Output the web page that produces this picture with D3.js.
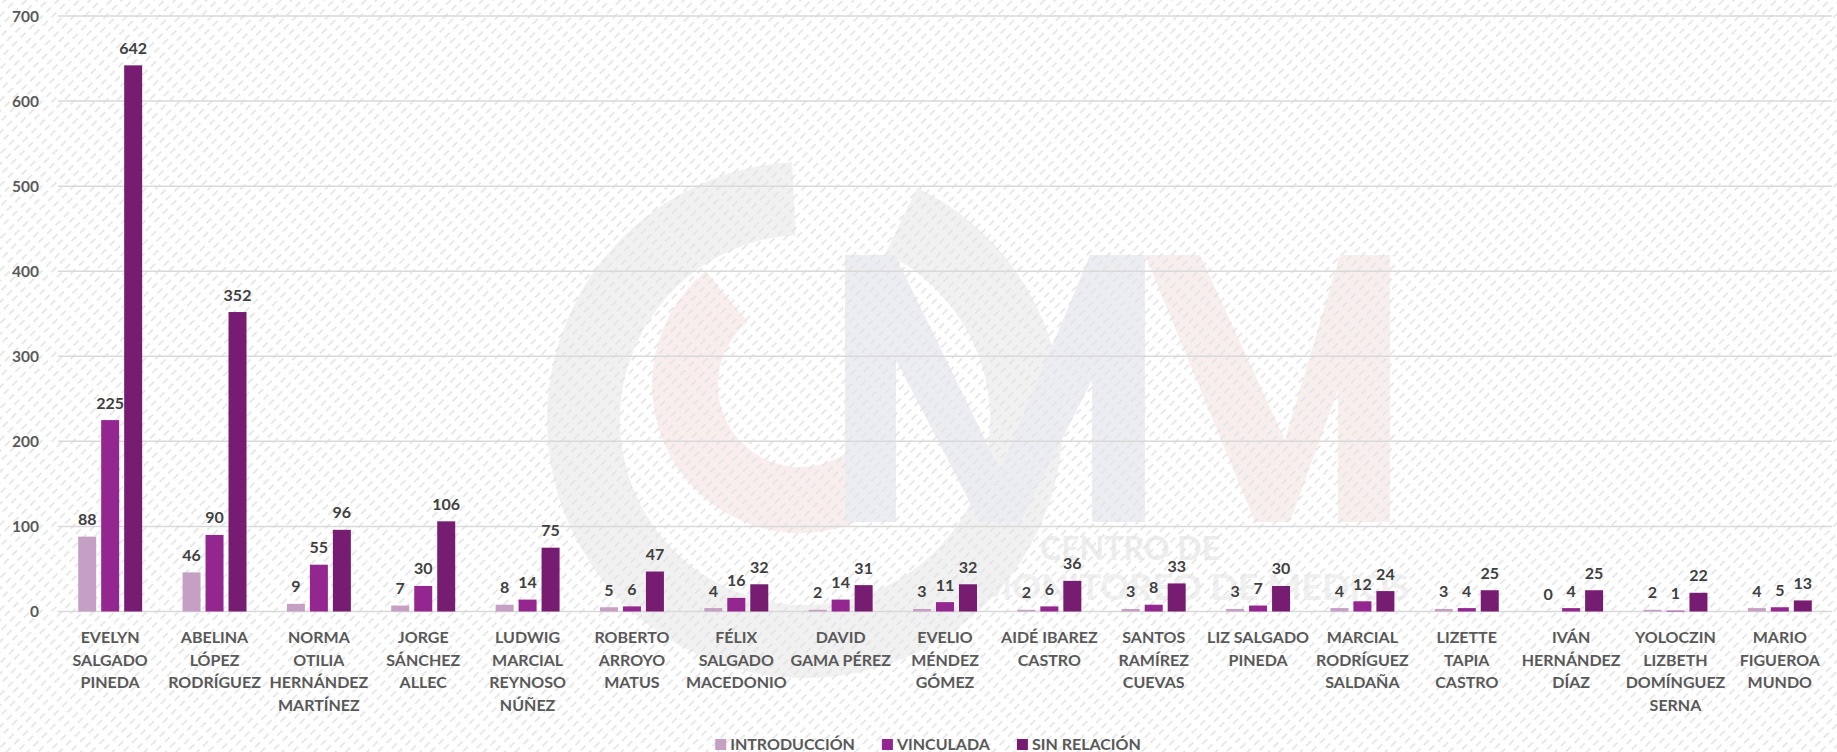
<!DOCTYPE html>
<html>
<head>
  <meta charset="utf-8" />
  <script src="https://d3js.org/d3.v7.min.js"></script>
  <style>
    body {
      margin: 0;
      background: #fff;
    }
    svg text {
      font-family: Lato, "Open Sans", sans-serif;
      font-weight: 700;
    }
  </style>
</head>
<body>
<div id="chart"></div>
<script>

// categories (one label line per entry)
var categories = [
  ["EVELYN", "SALGADO", "PINEDA"],
  ["ABELINA", "LÓPEZ", "RODRÍGUEZ"],
  ["NORMA", "OTILIA", "HERNÁNDEZ", "MARTÍNEZ"],
  ["JORGE", "SÁNCHEZ", "ALLEC"],
  ["LUDWIG", "MARCIAL", "REYNOSO", "NÚÑEZ"],
  ["ROBERTO", "ARROYO", "MATUS"],
  ["FÉLIX", "SALGADO", "MACEDONIO"],
  ["DAVID", "GAMA PÉREZ"],
  ["EVELIO", "MÉNDEZ", "GÓMEZ"],
  ["AIDÉ IBAREZ", "CASTRO"],
  ["SANTOS", "RAMÍREZ", "CUEVAS"],
  ["LIZ SALGADO", "PINEDA"],
  ["MARCIAL", "RODRÍGUEZ", "SALDAÑA"],
  ["LIZETTE", "TAPIA", "CASTRO"],
  ["IVÁN", "HERNÁNDEZ", "DÍAZ"],
  ["YOLOCZIN", "LIZBETH", "DOMÍNGUEZ", "SERNA"],
  ["MARIO", "FIGUEROA", "MUNDO"]
];

var seriesNames = ["INTRODUCCIÓN", "VINCULADA", "SIN RELACIÓN"];
var introduccion = [88, 46, 9, 7, 8, 5, 4, 2, 3, 2, 3, 3, 4, 3, 0, 2, 4];
var vinculada = [225, 90, 55, 30, 14, 6, 16, 14, 11, 6, 8, 7, 12, 4, 4, 1, 5];
var sinRelacion = [642, 352, 96, 106, 75, 47, 32, 31, 32, 36, 33, 30, 24, 25, 25, 22, 13];
var yTicks = [0, 100, 200, 300, 400, 500, 600, 700];

var colors = ["#c59fc4", "#93278f", "#761c71"];

var W = 1837, H = 752;
var plotLeft = 58, plotRight = 1832, plotTop = 16, plotBottom = 611.5;

var svg = d3.select("#chart").append("svg")
  .attr("width", W)
  .attr("height", H);

var defs = svg.append("defs");
var pat = defs.append("pattern")
  .attr("id", "hatch")
  .attr("patternUnits", "userSpaceOnUse")
  .attr("width", 12)
  .attr("height", 7.5)
  .attr("patternTransform", "rotate(-45)");
pat.append("line")
  .attr("x1", 0).attr("x2", 7)
  .attr("y1", 3.75).attr("y2", 3.75)
  .attr("stroke", "#e3e3e3")
  .attr("stroke-width", 1.6);

svg.append("rect").attr("width", W).attr("height", H).attr("fill", "#fff");

// faint watermark logo
var wm = svg.append("g").attr("class", "watermark");
wm.append("path")
  .attr("transform", "translate(805,420)")
  .attr("d", d3.arc().innerRadius(185).outerRadius(258).startAngle(0.45).endAngle(2 * Math.PI - 0.05)())
  .attr("fill", "#f1f1f1");
wm.append("path")
  .attr("transform", "translate(800,385)")
  .attr("d", d3.arc().innerRadius(82).outerRadius(148).startAngle(-Math.PI * 1.22).endAngle(-Math.PI * 0.22)())
  .attr("fill", "#f9eded");
wm.append("path")
  .attr("d", "M845,255 L895,255 L1000,470 L1090,255 L1145,255 L1145,522 L1092,522 L1092,380 L1020,522 L980,522 L896,360 L896,522 L845,522 Z")
  .attr("fill", "#ecedf2");
wm.append("path")
  .attr("d", "M1145,255 L1200,255 L1285,440 L1340,255 L1390,255 L1390,522 L1338,522 L1338,390 L1290,522 L1255,522 Z")
  .attr("fill", "#f9eeee");
wm.append("text").attr("x", 1040).attr("y", 560)
  .attr("fill", "#ededed").style("font-size", "32px").text("CENTRO DE");
wm.append("text").attr("x", 978).attr("y", 600)
  .attr("fill", "#f0f0f0").style("font-size", "36px").text("MONITOREO DE MEDIOS");

svg.append("rect").attr("width", W).attr("height", H).attr("fill", "url(#hatch)");

var y = d3.scaleLinear().domain([0, 700]).range([plotBottom, plotTop]);

var x0 = d3.scaleBand()
  .domain(d3.range(categories.length))
  .range([plotLeft, plotRight])
  .paddingInner(0.387)
  .paddingOuter(0.1935);

var x1 = d3.scaleBand()
  .domain(d3.range(3))
  .range([0, x0.bandwidth()])
  .paddingInner(0.217);

// gridlines
svg.append("g").selectAll("line")
  .data(yTicks)
  .join("line")
  .attr("x1", plotLeft).attr("x2", plotRight)
  .attr("y1", d => y(d)).attr("y2", d => y(d))
  .attr("stroke", "#d9d9d9")
  .attr("stroke-width", 1.5);

svg.append("g").selectAll("text")
  .data(yTicks)
  .join("text")
  .attr("x", 39)
  .attr("y", d => y(d) + 5.5)
  .attr("text-anchor", "end")
  .attr("fill", "#595959")
  .style("font-size", "15.5px")
  .text(d => d);

var series = [introduccion, vinculada, sinRelacion];
var rows = categories.map(function(c, i) {
  return series.map(function(s, k) { return {cat: i, key: k, value: s[i]}; });
});

var groups = svg.append("g").selectAll("g")
  .data(rows)
  .join("g")
  .attr("transform", (d, i) => "translate(" + x0(i) + ",0)");

groups.selectAll("rect")
  .data(d => d)
  .join("rect")
  .attr("x", d => x1(d.key))
  .attr("y", d => y(d.value))
  .attr("width", x1.bandwidth())
  .attr("height", d => y(0) - y(d.value))
  .attr("fill", d => colors[d.key]);

groups.selectAll("text")
  .data(d => d)
  .join("text")
  .attr("x", d => x1(d.key) + x1.bandwidth() / 2)
  .attr("y", d => y(d.value) - 11.5)
  .attr("text-anchor", "middle")
  .attr("fill", "#404040")
  .style("font-size", "16px")
  .text(d => d.value);

// category labels
svg.append("g").selectAll("text")
  .data(categories)
  .join("text")
  .attr("text-anchor", "middle")
  .attr("fill", "#595959")
  .style("font-size", "16px")
  .each(function(lines, i) {
    d3.select(this).selectAll("tspan")
      .data(lines)
      .join("tspan")
      .attr("x", x0(i) + x0.bandwidth() / 2)
      .attr("y", (l, j) => 643 + j * 22.6)
      .text(l => l);
  });

// legend
var legend = svg.append("g");
var items = legend.selectAll("g")
  .data(seriesNames)
  .join("g");
items.append("rect")
  .attr("width", 11).attr("height", 11)
  .attr("y", 739)
  .attr("fill", (d, i) => colors[i]);
items.append("text")
  .attr("x", 15)
  .attr("y", 750)
  .attr("fill", "#595959")
  .style("font-size", "16px")
  .text(d => d);
var pos = 0, offs = [];
items.each(function(d, i) {
  offs.push(pos);
  pos += 15 + this.querySelector("text").getComputedTextLength() + (i < 2 ? 27 : 0);
});
var start = 928 - pos / 2;
items.attr("transform", (d, i) => "translate(" + (start + offs[i]) + ",0)");

</script>
</body>
</html>
